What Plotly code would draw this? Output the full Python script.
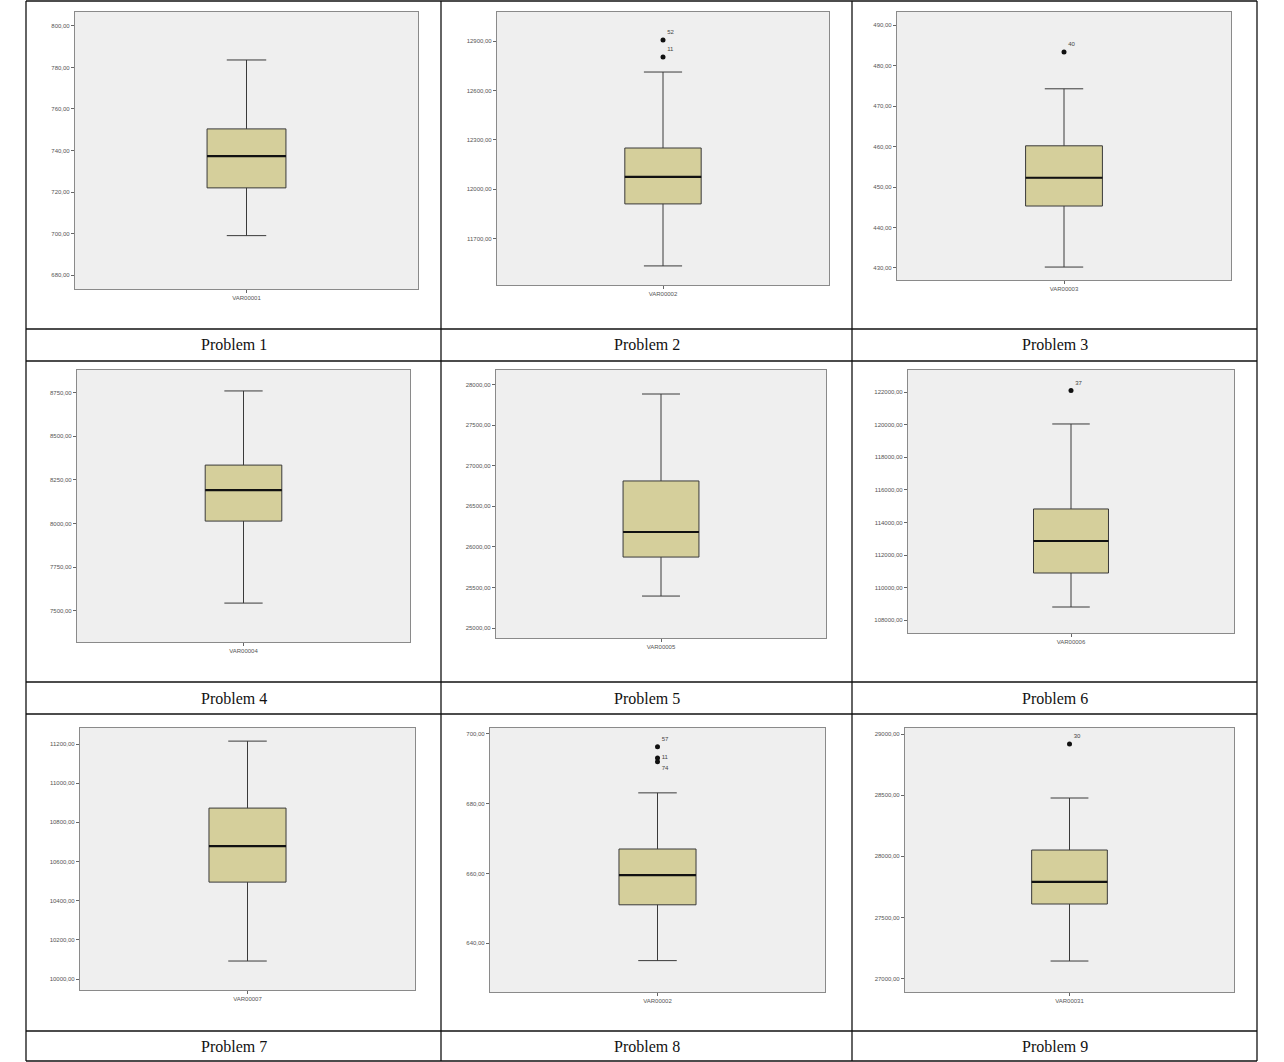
import plotly.graph_objects as go

# ---- data: one box plot per problem ----
captions = ["Problem 1", "Problem 2", "Problem 3", "Problem 4", "Problem 5",
            "Problem 6", "Problem 7", "Problem 8", "Problem 9"]
var_names = ["VAR00001", "VAR00002", "VAR00003", "VAR00004", "VAR00005",
             "VAR00006", "VAR00007", "VAR00002", "VAR00031"]

lower_whisker = [699.0, 11534, 430.2, 7544, 25394, 108820, 10092, 635.0, 27145]
q1_values     = [722.0, 11911, 445.3, 8014, 25875, 110905, 10495, 651.0, 27611]
median_values = [737.3, 12075, 452.3, 8192, 26184, 112866, 10679, 659.5, 27791]
q3_values     = [750.4, 12251, 460.2, 8335, 26813, 114830, 10873, 667.0, 28052]
upper_whisker = [783.6, 12713, 474.3, 8760, 27885, 120040, 11215, 683.1, 28477]

outlier_values = [[], [12908, 12805], [483.4], [], [], [122100], [],
                  [696.3, 693.1, 692.0], [28918]]
outlier_ids = [[], ["52", "11"], ["40"], [], [], ["37"], [],
               ["57", "11", "74"], ["30"]]

tick_values = [
    [680, 700, 720, 740, 760, 780, 800],
    [11700, 12000, 12300, 12600, 12900],
    [430, 440, 450, 460, 470, 480, 490],
    [7500, 7750, 8000, 8250, 8500, 8750],
    [25000, 25500, 26000, 26500, 27000, 27500, 28000],
    [108000, 110000, 112000, 114000, 116000, 118000, 120000, 122000],
    [10000, 10200, 10400, 10600, 10800, 11000, 11200],
    [640, 660, 680, 700],
    [27000, 27500, 28000, 28500, 29000],
]

# ---- layout geometry (pixels on a 1284 x 1062 page) ----
W, H = 1284, 1062
frames = [  # left, top, right, bottom of each chart frame
    (75, 12, 418, 289), (497, 12, 829, 285), (897, 12, 1231, 280),
    (77, 370, 410, 642), (496, 370, 826, 638), (908, 370, 1234, 633),
    (80, 728, 415, 990), (490, 728, 825, 992), (905, 728, 1234, 992),
]
y_ranges = [
    (673.3, 806.7), (11418, 13078), (427.0, 493.3),
    (7321, 8880), (24877, 28181), (107227, 123349),
    (9944, 11282), (626.0, 701.7), (26892, 29049),
]
col_lines = [26, 441, 852, 1257]
row_lines = [1, 329, 361, 682, 714, 1031, 1061]
caption_rows = [(329, 361), (682, 714), (1031, 1062)]

BOX_W = 0.23
BOX_FILL = "#d5cf9b"
EDGE = "#3a3a3a"
TICK_FONT = dict(family="Liberation Sans", size=6, color="#555555")
LABEL_SPOTS = ["top right", "middle right", "bottom right"]

fig = go.Figure()
layout_axes = {}

for i in range(9):
    n = "" if i == 0 else str(i + 1)
    xa, ya = "x" + n, "y" + n
    left, top, right, bottom = frames[i]

    fig.add_trace(go.Box(
        x=[0], q1=[q1_values[i]], median=[median_values[i]], q3=[q3_values[i]],
        lowerfence=[lower_whisker[i]], upperfence=[upper_whisker[i]],
        width=BOX_W, whiskerwidth=0.5, fillcolor=BOX_FILL,
        line=dict(color=EDGE, width=1), boxpoints=False,
        xaxis=xa, yaxis=ya, showlegend=False, hoverinfo="skip",
    ))
    # heavier median bar across the box
    fig.add_trace(go.Scatter(
        x=[-BOX_W / 2, BOX_W / 2], y=[median_values[i]] * 2, mode="lines",
        line=dict(color="#111111", width=2.2), xaxis=xa, yaxis=ya,
        showlegend=False, hoverinfo="skip",
    ))
    if outlier_values[i]:
        k = len(outlier_values[i])
        spots = LABEL_SPOTS if k == 3 else ["top right"] * k
        fig.add_trace(go.Scatter(
            x=[0] * k, y=outlier_values[i],
            mode="markers+text", text=outlier_ids[i], textposition=spots,
            textfont=dict(family="Liberation Sans", size=6, color="#444444"),
            marker=dict(color="#111111", size=5), xaxis=xa, yaxis=ya,
            showlegend=False, hoverinfo="skip",
        ))

    layout_axes["xaxis" + n] = dict(
        domain=[left / W, right / W], anchor=ya, range=[-0.5, 0.5],
        tickvals=[0], ticktext=[var_names[i]], tickfont=TICK_FONT,
        ticks="outside", ticklen=3, tickcolor="#666666",
        showgrid=False, zeroline=False, showline=True, mirror=True,
        linecolor="#8a8a8a", linewidth=1.2, fixedrange=True,
    )
    layout_axes["yaxis" + n] = dict(
        domain=[1 - bottom / H, 1 - top / H], anchor=xa, range=list(y_ranges[i]),
        tickvals=tick_values[i],
        ticktext=[f"{v:.2f}".replace(".", ",") for v in tick_values[i]],
        tickfont=TICK_FONT, ticks="outside", ticklen=3, tickcolor="#666666",
        showgrid=False, zeroline=False, showline=True, mirror=True,
        linecolor="#8a8a8a", linewidth=1.2, fixedrange=True,
    )

# table rules
shapes = []
for x in col_lines:
    shapes.append(dict(type="line", xref="paper", yref="paper",
                       x0=x / W, x1=x / W, y0=1 - row_lines[0] / H, y1=1 - row_lines[-1] / H,
                       line=dict(color="#111111", width=1.3)))
for y in row_lines:
    shapes.append(dict(type="line", xref="paper", yref="paper",
                       x0=col_lines[0] / W, x1=col_lines[-1] / W, y0=1 - y / H, y1=1 - y / H,
                       line=dict(color="#111111", width=1.3)))

annotations = []
for i, cap in enumerate(captions):
    r, c = divmod(i, 3)
    cx = (col_lines[c] + col_lines[c + 1]) / 2
    cy = sum(caption_rows[r]) / 2
    annotations.append(dict(text=cap, x=cx / W, y=1 - cy / H, xref="paper", yref="paper",
                            showarrow=False, xanchor="center", yanchor="middle",
                            font=dict(family="Liberation Serif", size=16, color="#111111")))

fig.update_layout(
    width=W, height=H, margin=dict(l=0, r=0, t=0, b=0),
    paper_bgcolor="white", plot_bgcolor="#efefef",
    shapes=shapes, annotations=annotations, showlegend=False,
    **layout_axes,
)

fig.write_html("out.html")
